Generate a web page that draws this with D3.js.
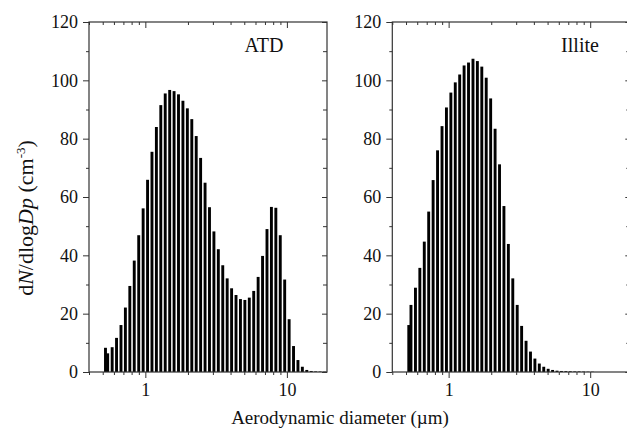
<!DOCTYPE html>
<html>
<head>
<meta charset="utf-8">
<script src="https://cdn.jsdelivr.net/npm/d3@7"></script>
<style>
  html, body { margin: 0; padding: 0; background: #fff; }
  svg { display: block; }
  text { font-family: "Liberation Serif", "Times New Roman", serif; fill: #111; }
</style>
</head>
<body>
<svg id="chart" width="627" height="433"></svg>
<script>
// Aerodynamic diameter channel midpoints (µm)
const diameters = [0.523, 0.542, 0.583, 0.626, 0.673, 0.723, 0.777, 0.835, 0.898, 0.965,
  1.037, 1.114, 1.197, 1.286, 1.382, 1.486, 1.596, 1.715, 1.843, 1.981,
  2.129, 2.288, 2.458, 2.642, 2.839, 3.051, 3.278, 3.523, 3.786, 4.068,
  4.371, 4.698, 5.048, 5.425, 5.829, 6.264, 6.732, 7.234, 7.774, 8.354,
  8.977, 9.647, 10.37, 11.14, 11.97, 12.86, 13.82, 14.86, 15.96, 17.15,
  18.43, 19.81];

const atdValues = [8.3, 6.4, 8.5, 11.7, 16.1, 22.1, 29.5, 38.2, 46.9, 56.1,
  65.9, 75.5, 84.0, 91.5, 95.5, 96.7, 96.3, 95.2, 93.0, 90.4,
  86.7, 80.9, 73.4, 64.9, 56.5, 48.2, 42.1, 36.6, 32.1, 28.7,
  26.4, 25.0, 24.7, 25.5, 27.8, 32.6, 39.8, 49.0, 56.6, 56.3,
  46.9, 31.7, 18.1, 8.9, 4.1, 1.8, 0.7, 0.35, 0.2, 0.15,
  0.1, 0];

const illiteValues = [16.1, 23.0, 28.9, 35.7, 44.7, 55.0, 65.8, 76.0, 84.3, 90.7,
  95.8, 99.3, 102.0, 105.1, 106.1, 107.4, 106.6, 104.7, 100.9, 93.8,
  83.4, 71.2, 56.9, 43.9, 32.1, 23.0, 15.8, 10.7, 7.0, 4.6,
  2.9, 1.8, 1.1, 0.7, 0.45, 0.35, 0.3, 0.25, 0.2, 0.2,
  0.15, 0.1, 0.1, 0, 0, 0, 0, 0, 0, 0,
  0, 0];

const panelNames = ["ATD", "Illite"];
const yMajorTicks = [0, 20, 40, 60, 80, 100, 120];
const yMinorTicks = [10, 30, 50, 70, 90, 110];
const xMajorTicks = [1, 10];
const xMinorTicks = [0.4, 0.5, 0.6, 0.7, 0.8, 0.9, 2, 3, 4, 5, 6, 7, 8, 9];
const xAxisTitle = "Aerodynamic diameter (µm)";

const svg = d3.select("#chart");
const plotTop = 22, plotBottom = 372;
const panelLefts = [89, 392.3];
const panelWidth = 238;
const panelLabelX = [264, 580];
const axisColor = "#333";

const y = d3.scaleLinear().domain([0, 120]).range([plotBottom, plotTop]);

const series = [atdValues, illiteValues];

function styleAxis(g) {
  g.select(".domain").remove();
  g.attr("font-family", null).attr("font-size", null);
  g.selectAll(".tick line").attr("stroke", axisColor).attr("stroke-width", 1);
  g.selectAll(".tick text").attr("fill", "#111")
    .style("font-family", '"Liberation Serif", serif').style("font-size", "18px");
}

series.forEach((vals, p) => {
  const x0 = panelLefts[p], x1 = x0 + panelWidth;
  const x = d3.scaleLog().domain([0.4, 19.2]).range([x0, x1]);
  const g = svg.append("g");
  const clipId = "clip" + p;
  svg.append("clipPath").attr("id", clipId).append("rect")
    .attr("x", x0).attr("y", plotTop).attr("width", panelWidth).attr("height", plotBottom - plotTop);

  // bars
  const data = diameters.map((d, i) => ({ d, v: vals[i] })).filter(o => o.v > 0);
  g.append("g").attr("clip-path", `url(#${clipId})`)
    .selectAll("rect").data(data).join("rect")
    .attr("x", o => x(o.d) - 1.45)
    .attr("width", 2.9)
    .attr("y", o => y(o.v))
    .attr("height", o => plotBottom - y(o.v))
    .attr("fill", "#000");

  // left axis (outward)
  g.append("g").attr("transform", `translate(${x0},0)`)
    .call(d3.axisLeft(y).tickValues(yMajorTicks).tickSize(6).tickPadding(5).tickFormat(d3.format("d")))
    .call(styleAxis);
  g.append("g").attr("transform", `translate(${x0},0)`)
    .call(d3.axisLeft(y).tickValues(yMinorTicks).tickSize(3).tickFormat(""))
    .call(styleAxis);
  // right border (inward)
  g.append("g").attr("transform", `translate(${x1},0)`)
    .call(d3.axisLeft(y).tickValues(yMajorTicks).tickSize(5).tickFormat(""))
    .call(styleAxis);
  g.append("g").attr("transform", `translate(${x1},0)`)
    .call(d3.axisLeft(y).tickValues(yMinorTicks).tickSize(4).tickFormat(""))
    .call(styleAxis);
  // bottom axis (outward)
  g.append("g").attr("transform", `translate(0,${plotBottom})`)
    .call(d3.axisBottom(x).tickValues(xMajorTicks).tickSize(6).tickPadding(5).tickFormat(d3.format("d")))
    .call(styleAxis);
  g.append("g").attr("transform", `translate(0,${plotBottom})`)
    .call(d3.axisBottom(x).tickValues(xMinorTicks).tickSize(3).tickFormat(""))
    .call(styleAxis);
  // top axis (inward)
  g.append("g").attr("transform", `translate(0,${plotTop})`)
    .call(d3.axisBottom(x).tickValues(xMajorTicks).tickSize(6).tickFormat(""))
    .call(styleAxis);
  g.append("g").attr("transform", `translate(0,${plotTop})`)
    .call(d3.axisBottom(x).tickValues(xMinorTicks).tickSize(3).tickFormat(""))
    .call(styleAxis);

  // frame
  g.append("rect").attr("x", x0).attr("y", plotTop).attr("width", panelWidth).attr("height", plotBottom - plotTop)
    .attr("fill", "none").attr("stroke", axisColor).attr("stroke-width", 1.2);

  // panel label
  g.append("text").attr("x", panelLabelX[p]).attr("y", 52).attr("text-anchor", "middle")
    .style("font-size", "20px").text(panelNames[p]);
});

// y-axis title
const yt = svg.append("text").attr("transform", "translate(33,218) rotate(-90)")
  .attr("text-anchor", "middle").style("font-size", "22px");
yt.append("tspan").text("d");
yt.append("tspan").style("font-style", "italic").text("N");
yt.append("tspan").text("/dlog");
yt.append("tspan").style("font-style", "italic").text("Dp");
yt.append("tspan").text(" (cm");
yt.append("tspan").attr("dy", -8).style("font-size", "13px").text("-3");
yt.append("tspan").attr("dy", 8).text(")");

// x-axis title
svg.append("text").attr("x", 340).attr("y", 424).attr("text-anchor", "middle")
  .style("font-size", "19px").text(xAxisTitle);
</script>
</body>
</html>
